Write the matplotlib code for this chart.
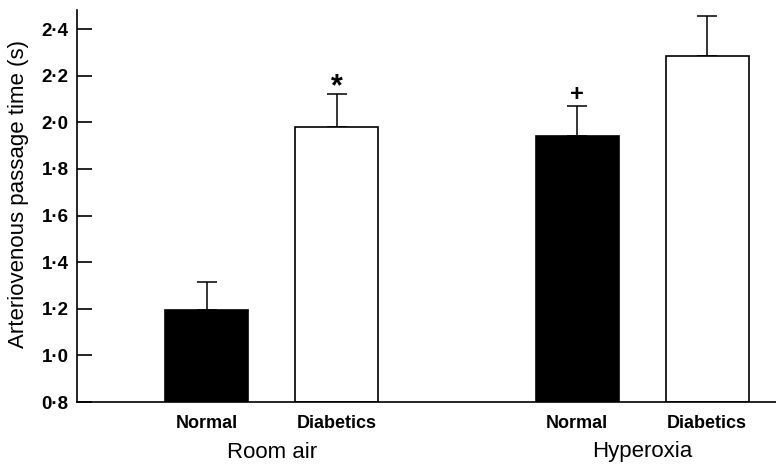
import matplotlib
matplotlib.use("Agg")
import matplotlib.pyplot as plt
import matplotlib.transforms as mtransforms

# Data
conditions = ["Room air", "Hyperoxia"]
groups = ["Normal", "Diabetics", "Normal", "Diabetics"]
means = [1.195, 1.978, 1.942, 2.283]
errors = [0.122, 0.142, 0.130, 0.172]
markers = ["", "*", "+", ""]
yticks = [0.8, 1.0, 1.2, 1.4, 1.6, 1.8, 2.0, 2.2, 2.4]
ytick_labels = ["0·8", "1·0", "1·2", "1·4", "1·6", "1·8", "2·0", "2·2", "2·4"]

plt.rcParams['font.family'] = ['Liberation Sans', 'DejaVu Sans']

fig = plt.figure(figsize=(7.76, 4.66), dpi=100)
ax = fig.add_axes([0.0992, 0.1373, 0.9008, 0.8412])

positions = [1.0, 2.0, 3.85, 4.85]
colors = ["black", "white", "black", "white"]
ybase = 0.8
heights = [m - ybase for m in means]
ax.bar(positions, heights, bottom=ybase, width=0.64, color=colors,
       edgecolor="black", linewidth=1.2, zorder=2)
ax.errorbar(positions, means, yerr=[[0]*4, errors], fmt="none",
            ecolor="black", elinewidth=1.1, capsize=7, capthick=1.1, zorder=1)

marker_sizes = {"*": 22, "+": 17}
marker_offsets = {"*": -6, "+": 0}
for x, m, e, mk in zip(positions, means, errors, markers):
    if mk:
        ax.annotate(mk, (x, m + e), xytext=(0, marker_offsets[mk]), textcoords="offset points",
                    ha="center", va="bottom", fontsize=marker_sizes[mk], fontweight="bold")

ax.set_xlim(0, 5.38)
ax.set_ylim(0.8, 2.482)
ax.set_yticks(yticks)
ax.set_yticklabels(ytick_labels, fontsize=13.5, fontweight="bold")
ax.set_xticks(positions)
ax.set_xticklabels(groups, fontsize=13, fontweight="bold")
ax.tick_params(axis="x", length=0, pad=9)
ax.tick_params(axis="y", direction="in", length=11, width=1.2, pad=6)

for s in ["top", "right"]:
    ax.spines[s].set_visible(False)
for s in ["left", "bottom"]:
    ax.spines[s].set_linewidth(1.2)

ax.set_ylabel("Arteriovenous passage time (s)", fontsize=16)
ax.yaxis.set_label_coords(-0.068, 0.53)

trans = mtransforms.blended_transform_factory(ax.transData, fig.transFigure)
group_centers = [(positions[0] + positions[1]) / 2, (positions[2] + positions[3]) / 2]
for c, name in zip(group_centers, conditions):
    ax.text(c, (466 - 452) / 466, name, transform=trans, ha="center", va="center",
            fontsize=16)

fig.savefig("out.png", dpi=100)
